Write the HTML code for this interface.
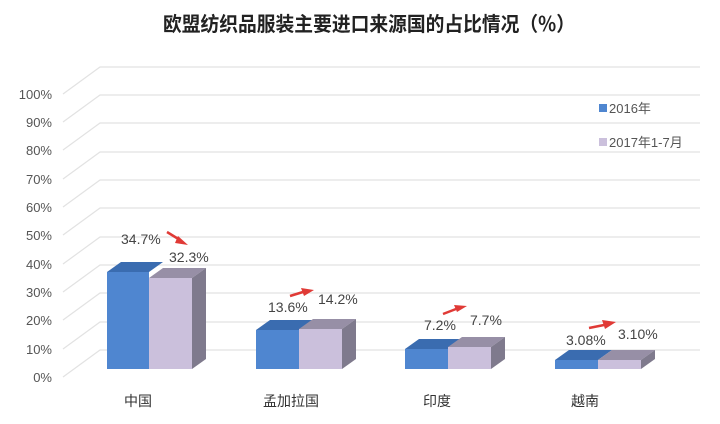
<!DOCTYPE html>
<html><head><meta charset="utf-8"><style>
body{margin:0;background:#fff;}
svg{display:block;font-family:"Liberation Sans","Noto Sans CJK SC",sans-serif;}
</style></head><body>
<svg width="720" height="424" viewBox="0 0 720 424" xmlns="http://www.w3.org/2000/svg">
<rect width="720" height="424" fill="#fff"/>
<text x="369" y="31" font-size="20" font-weight="bold" text-anchor="middle" fill="#222" textLength="412" lengthAdjust="spacingAndGlyphs" font-family="'Noto Sans CJK SC',sans-serif">欧盟纺织品服装主要进口来源国的占比情况（%）</text>
<g stroke="#e2e2e2" stroke-width="1.2" fill="none">
<path d="M63 377L100 350H700M63 349L100 322H700M63 320L100 293H700M63 292L100 265H700M63 264L100 237H700M63 235L100 208H700M63 207L100 180H700M63 179L100 152H700M63 150L100 123H700M63 122L100 95H700M63 94L100 67H700"/>
</g>
<g font-size="13" fill="#555" text-anchor="end">
<text x="52" y="382">0%</text><text x="52" y="354">10%</text><text x="52" y="325">20%</text><text x="52" y="297">30%</text><text x="52" y="269">40%</text><text x="52" y="240">50%</text><text x="52" y="212">60%</text><text x="52" y="184">70%</text><text x="52" y="155">80%</text><text x="52" y="127">90%</text><text x="52" y="99">100%</text>
</g>
<!-- bars: baseline 369 -->
<g>
<!-- China -->
<rect x="107" y="272" width="42" height="97" fill="#4f86d0"/><polygon points="107,272 121,262 163,262 149,272" fill="#3a6cb0"/>
<rect x="149" y="278" width="43" height="91" fill="#cbc0dc"/><polygon points="149,278 163,268 206,268 192,278" fill="#978fa6"/><polygon points="192,278 206,268 206,359 192,369" fill="#7f7a8d"/>
<!-- Bangladesh -->
<rect x="256" y="330" width="43" height="39" fill="#4f86d0"/><polygon points="256,330 270,320 313,320 299,330" fill="#3a6cb0"/>
<rect x="299" y="329" width="43" height="40" fill="#cbc0dc"/><polygon points="299,329 313,319 356,319 342,329" fill="#978fa6"/><polygon points="342,329 356,319 356,359 342,369" fill="#7f7a8d"/>
<!-- India -->
<rect x="405" y="349" width="43" height="20" fill="#4f86d0"/><polygon points="405,349 419,339 462,339 448,349" fill="#3a6cb0"/>
<rect x="448" y="347" width="43" height="22" fill="#cbc0dc"/><polygon points="448,347 462,337 505,337 491,347" fill="#978fa6"/><polygon points="491,347 505,337 505,359 491,369" fill="#7f7a8d"/>
<!-- Vietnam -->
<rect x="555" y="360" width="43" height="9" fill="#4f86d0"/><polygon points="555,360 569,350 612,350 598,360" fill="#3a6cb0"/>
<rect x="598" y="360" width="43" height="9" fill="#cbc0dc"/><polygon points="598,360 612,350 655,350 641,360" fill="#978fa6"/><polygon points="641,360 655,350 655,359 641,369" fill="#7f7a8d"/>
</g>
<g font-size="14" fill="#444">
<text x="121" y="244">34.7%</text><text x="169" y="262">32.3%</text>
<text x="268" y="312">13.6%</text><text x="318" y="304">14.2%</text>
<text x="424" y="330">7.2%</text><text x="470" y="325">7.7%</text>
<text x="566" y="345">3.08%</text><text x="618" y="339">3.10%</text>
</g>
<g stroke="#e03a36" stroke-width="2.5" fill="#e03a36">
<line x1="167" y1="232" x2="180" y2="240"/><polygon points="178,236 188,245 175,243" stroke="none"/>
<line x1="290" y1="296" x2="303" y2="292"/><polygon points="301,288 314,290 304,296" stroke="none"/>
<line x1="443" y1="314" x2="456" y2="309"/><polygon points="454,305 467,306 457,312" stroke="none"/>
<line x1="589" y1="328" x2="604" y2="325"/><polygon points="602,320 616,322 605,329" stroke="none"/>
</g>
<g font-size="14" fill="#333" text-anchor="middle" font-family="'Noto Sans CJK SC',sans-serif">
<text x="138" y="406">中国</text><text x="291" y="406">孟加拉国</text><text x="437" y="406">印度</text><text x="585" y="406">越南</text>
</g>
<rect x="599" y="104" width="8" height="8" fill="#4f86d0"/>
<text x="609" y="113" font-size="13" fill="#555" font-family="'Liberation Sans','Noto Sans CJK SC',sans-serif">2016年</text>
<rect x="599" y="138" width="8" height="8" fill="#cbc0dc"/>
<text x="609" y="147" font-size="13" fill="#555" font-family="'Liberation Sans','Noto Sans CJK SC',sans-serif">2017年1-7月</text>
</svg>
</body></html>
